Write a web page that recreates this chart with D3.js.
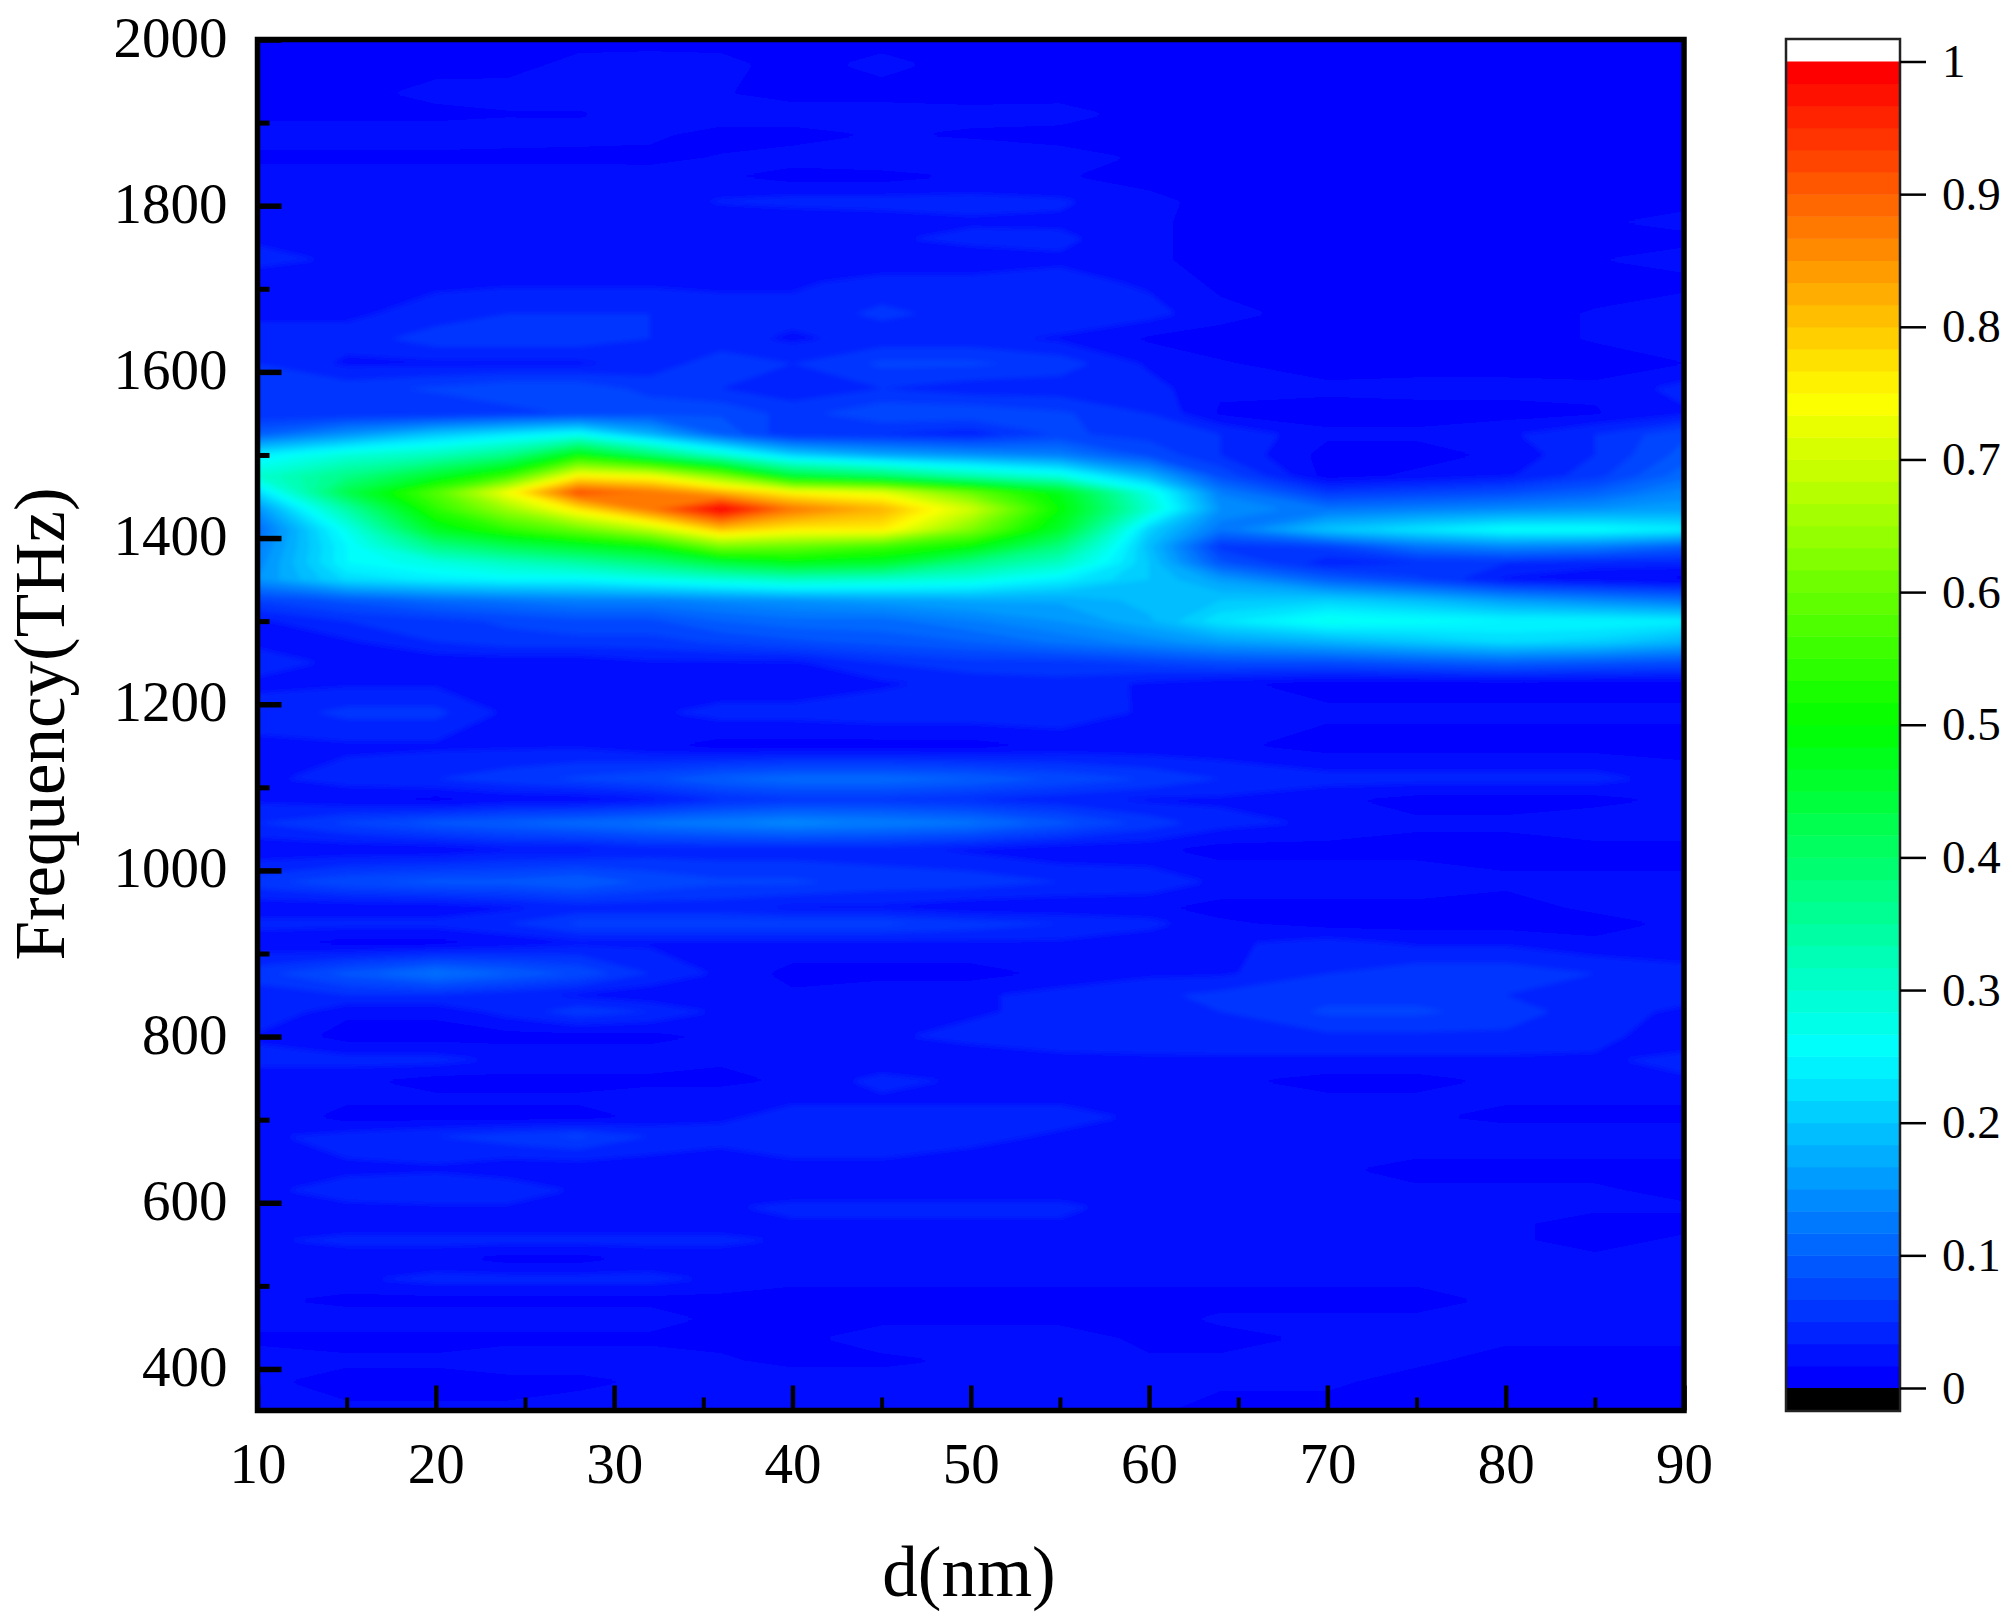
<!DOCTYPE html>
<html>
<head>
<meta charset="utf-8">
<script src="https://cdn.jsdelivr.net/npm/d3@7"></script>
<style>
    html, body { margin: 0; background: #fff; }
    svg { display: block; }
    text { font-family: "Liberation Serif", serif; fill: #000; }
</style>
</head>
<body>
<svg width="2014" height="1622"></svg>
<script>
/**
 * Data. Intensity is in percent, one row per frequency.
 */
const ds = [10, 15, 20, 24, 28, 32, 36, 40, 45, 50, 55, 60, 64, 70, 75, 80, 85, 90];
const freqs = [2000, 1970, 1935, 1910, 1885, 1858, 1835, 1805, 1780, 1760, 1735, 1708, 1670, 1640, 1610, 1580,
    1550, 1525, 1500, 1475, 1455, 1435, 1410, 1390, 1370, 1350, 1325, 1300, 1275, 1250, 1225, 1190, 1150, 1110,
    1085, 1057, 1025, 986, 955, 936, 913, 876, 850, 830, 800, 772, 747, 725, 703, 680, 640, 615, 595, 575, 555,
    533, 508, 482, 460, 437, 410, 385, 350];
const intensity = [
    [1, 1, 1, 1, 1, 1, 1, 1, 1, 1, 1, 1, 1, 1, 1, 1, 1, 1],
    [1, 1, 1, 1, 2.2, 2.4, 2.2, 1, 2.2, 1, 1, 1, 1, 1, 1, 1, 1, 1],
    [1, 1, 2.3, 2.4, 2.4, 2.2, 1.8, 1, 1, 1, 1, 1, 1, 1, 1, 1, 1, 1],
    [1, 1, 1, 1.5, 1.5, 2.2, 2.6, 2.6, 2.6, 2.2, 2.4, 1, 1, 1, 1, 1, 1, 1],
    [3, 3, 3, 2.6, 2.4, 2, 1, 1, 1.8, 1.4, 1, 1, 1, 1, 1, 1, 1, 1],
    [1, 1, 1, 1, 1, 1.2, 1.8, 2.4, 3, 3, 2.4, 1.4, 1, 1, 1, 1, 1, 1],
    [3, 3, 3, 3, 3, 2.4, 1.8, 1, 1, 1.8, 1.8, 1, 1, 1, 1, 1, 1, 1],
    [2, 2, 2, 2, 2, 2.6, 3.5, 4, 4, 4, 3.6, 2.2, 1, 1, 1, 1, 1, 1],
    [3, 2, 3, 3, 3, 2.6, 2, 1.8, 2.4, 3, 3, 2, 1, 1, 1, 1, 1.4, 2.4],
    [3, 2, 2, 3, 3, 3, 3, 3, 3, 4, 3.8, 2, 1, 1, 1, 1, 1, 1],
    [4, 3, 3, 3, 3, 3, 3, 2, 2, 2, 3, 2, 1, 1, 1, 1, 1.6, 2.6],
    [2, 2, 3, 3, 3, 3, 3, 3, 4, 4, 4, 3, 1.2, 1, 1, 1, 1, 1],
    [3, 3, 4, 5, 5, 5, 4, 4, 5.4, 4.4, 5, 4, 2.2, 1, 1, 1, 1.8, 3],
    [4, 4, 6, 6, 6, 5, 4, 3, 4, 4, 3, 1.4, 1, 1, 1, 1, 1.8, 3],
    [5, 3, 3, 3, 3, 4, 6, 5, 7, 7, 6, 3, 1.8, 1, 1, 1, 1, 1.6],
    [6, 6, 7, 8, 8, 6, 5, 4, 5, 4, 4, 4, 2, 2, 2.2, 2.2, 2, 4],
    [5, 5, 5, 6, 7, 8, 8, 6, 8, 8, 7, 5, 1.4, 1, 1, 1, 1.5, 3],
    [10, 15, 20, 23, 26, 18, 10, 5, 5, 4, 7, 6, 5, 2, 2, 3, 5, 8],
    [24, 29, 32, 37, 50, 40, 30, 21, 17, 15, 13, 8, 5, 1, 1, 2, 5, 9],
    [30, 37, 46, 55, 75, 73, 62, 45, 40, 33, 28, 18, 8, 1, 2, 3, 6, 11],
    [22, 43, 58, 74, 92, 88, 82, 75, 72, 60, 48, 28, 13, 6, 7, 8, 10, 14],
    [15, 34, 54, 65, 77, 88, 100, 88, 82, 70, 50, 30, 15, 12, 13, 14, 15, 16],
    [11, 27, 47, 54, 60, 68, 80, 76, 76, 62, 46, 21, 12, 20, 23, 26, 26, 24],
    [13, 25, 37, 42, 46, 50, 62, 60, 56, 50, 38, 19, 6, 7, 12, 14, 13, 10],
    [14, 25, 28, 31, 34, 38, 44, 48, 46, 37, 31, 20, 9, 4, 5, 5, 4, 4],
    [15, 22, 24, 25, 25, 27, 29, 31, 30, 28, 24, 20, 16, 10, 7, 3, 2, 1],
    [7, 9, 11, 12, 13, 13, 14, 15, 16, 17, 17, 19, 20, 21, 19, 16, 14, 12],
    [3, 5, 6, 7, 8, 8, 10, 11, 11, 13, 15, 18, 23, 27, 26, 25, 25, 24],
    [3, 3, 5, 6, 6, 6, 7, 8, 9, 10, 12, 14, 16, 18, 20, 22, 21, 18],
    [4, 3, 2, 2, 2, 3, 3, 3, 5, 6, 6, 7, 8, 8, 9, 10, 9, 8],
    [3, 3, 3, 3, 3, 3, 2, 2, 3, 4, 4.5, 3, 2, 1, 1, 1, 1, 1],
    [4, 5.5, 5.5, 3, 2, 3, 4, 4, 4.5, 4.5, 4.6, 3, 2, 2, 2, 2, 2, 2],
    [3, 3, 3, 3, 3, 2, 1, 1, 1, 1, 2, 2, 2, 1, 1, 1, 1, 1],
    [3, 4, 5, 6, 7, 8, 10, 11, 11, 10, 8, 6.5, 5, 4, 4, 4, 4, 2.5],
    [3, 2, 1, 2, 2, 3, 5, 6, 6, 5, 4, 3, 3, 2, 1, 1, 1, 2],
    [5, 7, 9, 10, 11, 12, 13, 14, 13, 12, 9, 6, 4, 3, 2, 2, 3, 3],
    [2, 2, 2, 3, 3, 4, 4, 4, 4, 3, 2, 2, 1, 1, 1, 1, 1, 1],
    [6, 8, 9, 9, 10, 8, 7, 7, 6, 6, 5, 4.5, 3, 3, 3, 2, 2, 2],
    [2, 2, 2, 3, 4, 4, 4, 3, 3, 2, 2, 2, 1, 1, 1, 1, 2, 3],
    [4, 4, 4, 5, 7, 7, 7, 7, 7, 6, 5, 4, 2, 1, 1, 1, 1, 2],
    [2, 1, 1, 2, 3, 3, 3, 3, 3, 3, 3, 2, 3, 4, 3, 3, 2, 2],
    [6, 9, 12, 10, 8, 5, 3, 1, 1, 1, 2, 3, 3, 5, 6, 6, 5, 4],
    [4, 5, 5, 4, 3, 2, 2, 2, 3, 3, 4, 4.6, 5.5, 6, 6, 5, 4, 4],
    [5, 2, 2, 4, 6, 5, 3, 2, 2, 3, 4, 4.6, 5, 7, 7, 6, 4, 3],
    [3, 1, 1, 1, 1, 1, 2, 2, 3, 4, 4, 4.4, 4.6, 4.6, 4.6, 4.6, 4, 2],
    [4, 4, 4, 3, 3, 3, 2, 2, 2, 2, 3, 3, 3, 3, 3, 3, 3, 4],
    [2, 2, 1, 1, 1, 1, 1, 2, 4, 3, 3, 2, 2, 1, 1, 2, 3, 3],
    [3, 2, 2, 2, 2, 3, 3, 3, 3, 3, 3, 3, 2, 2, 2, 2, 2, 2],
    [3, 1, 1, 1, 1, 2, 3, 4, 4, 4, 4, 3, 3, 2, 2, 1, 1, 1],
    [3, 4, 5, 6, 7, 5, 4, 4, 4, 4, 3, 3, 3, 3, 3, 3, 3, 3],
    [3, 3, 3, 2, 2, 2, 2, 3, 3, 2, 2, 2, 2, 2, 1, 1, 1, 1],
    [3, 4, 5, 5, 3, 3, 3, 2, 2, 2, 2, 2, 2, 2, 2, 2, 2, 1],
    [3, 3, 3, 3, 3, 3, 3, 4, 4, 4, 4, 2, 2, 2, 2, 2, 2, 2],
    [2, 2, 2, 2, 2, 2, 2, 3, 3, 3, 3, 2, 2, 2, 2, 2, 1, 1],
    [3, 4, 4, 4, 4, 4, 4, 3, 2, 2, 2, 2, 2, 2, 2, 2, 1, 2],
    [2, 2, 2, 1, 1, 2, 2, 2, 2, 2, 2, 2, 2, 2, 2, 2, 2, 2],
    [2, 3, 4, 4, 4, 4, 3, 2, 2, 2, 2, 2, 2, 2, 2, 2, 2, 3],
    [2, 1, 1, 1, 1, 1, 1, 1, 1, 1, 1, 1, 1, 1, 1, 2, 2, 2],
    [3, 3, 3, 3, 3, 3, 1, 1, 1, 1, 1, 1, 2, 2, 2, 2, 2, 3],
    [1, 1, 1, 1, 1, 1, 1, 1, 3, 3, 3, 1, 1, 2, 2, 2, 2, 2],
    [3, 2, 2, 3, 3, 3, 2, 1, 1, 2, 2, 2, 2, 2, 2, 1, 1, 1],
    [2, 1, 1, 1, 1, 2, 2, 3, 3, 3, 3, 2, 2, 2, 1, 1, 1, 1],
    [2, 2, 2, 2, 3, 3, 3, 3, 2, 2, 2, 2, 1, 1, 1, 1, 1, 1]
];
const xMajor = [10, 20, 30, 40, 50, 60, 70, 80, 90];
const xMinor = [15, 25, 35, 45, 55, 65, 75, 85];
const yMajor = [400, 600, 800, 1000, 1200, 1400, 1600, 1800, 2000];
const yMinor = [500, 700, 900, 1100, 1300, 1500, 1700, 1900];
const barTicks = [0, 0.1, 0.2, 0.3, 0.4, 0.5, 0.6, 0.7, 0.8, 0.9, 1];
const levelCount = 60;
const jetStops = ['#0000ff', '#00ffff', '#00ff00', '#ffff00', '#ff0000'];

/**
 * Set stuff up.
 */
const svg = d3.select('svg');
const plot = { left: 257.5, right: 1684, top: 39.5, bottom: 1410.5 };
const bar = { left: 1786, right: 1900, top: 39, bottom: 1411 };

const x = d3.scaleLinear().domain([10, 90]).range([plot.left, plot.right]);
const y = d3.scaleLinear().domain([350, 2000]).range([plot.bottom, plot.top]);
const barY = d3.scaleLinear().domain([0, 1]).range([1388, 61.5]);

const jet = d3.scaleLinear().domain([0, 0.25, 0.5, 0.75, 1]).range(jetStops);
const levels = d3.range(levelCount).map(k => k / levelCount);
const levelColor = k => jet(k / (levelCount - 1));

// grid index -> data value, the grid is not evenly spaced
const colToD = d3.scaleLinear().domain(ds.map((d, i) => i)).range(ds).clamp(true);
const rowToF = d3.scaleLinear().domain(freqs.map((d, i) => i)).range(freqs).clamp(true);

const defs = svg.append('defs');
defs.append('clipPath').attr('id', 'plot-clip').append('rect')
    .attr('x', plot.left).attr('y', plot.top)
    .attr('width', plot.right - plot.left).attr('height', plot.bottom - plot.top);
defs.append('filter').attr('id', 'soft')
    .attr('filterUnits', 'userSpaceOnUse')
    .attr('x', plot.left - 20).attr('y', plot.top - 20)
    .attr('width', plot.right - plot.left + 40).attr('height', plot.bottom - plot.top + 40)
    .append('feGaussianBlur').attr('stdDeviation', 2.5);

/**
 * Filled contours.
 */
const contours = d3.contours()
    .size([ds.length, freqs.length])
    .thresholds(levels)(intensity.flat().map(v => v / 100));

// d3.contours puts a value at i + 0.5, so take that back off
const path = d3.geoPath(d3.geoTransform({
    point(px, py) {
        this.stream.point(x(colToD(px - 0.5)), y(rowToF(py - 0.5)));
    }
}));

const map = svg.append('g').attr('clip-path', 'url(#plot-clip)').append('g').attr('filter', 'url(#soft)');
map.append('rect')
    .attr('x', plot.left - 10).attr('y', plot.top - 10)
    .attr('width', plot.right - plot.left + 20).attr('height', plot.bottom - plot.top + 20)
    .attr('fill', levelColor(0));
map.selectAll('path')
    .data(contours)
    .enter()
    .append('path')
    .attr('d', path)
    .attr('fill', (d, i) => levelColor(i));

/**
 * Axes.
 */
function styleAxis(g, width, fontSize) {
    g.select('.domain').remove();
    g.selectAll('line').attr('stroke', '#000').attr('stroke-width', width);
    g.selectAll('text').attr('font-size', fontSize).attr('font-family', '"Liberation Serif", serif');
}

svg.append('g')
    .attr('transform', `translate(0,${plot.bottom})`)
    .call(d3.axisBottom(x).tickValues(xMajor).tickSize(-25).tickPadding(32).tickFormat(d3.format('d')))
    .call(styleAxis, 4.5, 57);
svg.append('g')
    .attr('transform', `translate(0,${plot.bottom})`)
    .call(d3.axisBottom(x).tickValues(xMinor).tickSize(-13).tickFormat(''))
    .call(styleAxis, 4, 57);
svg.append('g')
    .attr('transform', `translate(${plot.left},0)`)
    .call(d3.axisLeft(y).tickValues(yMajor).tickSize(-24).tickPadding(30).tickFormat(d3.format('d')))
    .call(styleAxis, 5.5, 57)
    .call(g => g.selectAll('text').attr('dy', '0.29em'));
svg.append('g')
    .attr('transform', `translate(${plot.left},0)`)
    .call(d3.axisLeft(y).tickValues(yMinor).tickSize(-12).tickFormat(''))
    .call(styleAxis, 5, 57);

svg.append('rect')
    .attr('x', plot.left).attr('y', plot.top)
    .attr('width', plot.right - plot.left).attr('height', plot.bottom - plot.top)
    .attr('fill', 'none').attr('stroke', '#000').attr('stroke-width', 5.5);

svg.append('text')
    .attr('x', 969).attr('y', 1596)
    .attr('text-anchor', 'middle').attr('font-size', 71)
    .text('d(nm)');
svg.append('text')
    .attr('transform', 'translate(64,724) rotate(-90)')
    .attr('text-anchor', 'middle').attr('font-size', 71)
    .text('Frequency(THz)');

/**
 * Colour bar.
 */
const barG = svg.append('g');
barG.selectAll('rect')
    .data(levels)
    .enter()
    .append('rect')
    .attr('x', bar.left).attr('width', bar.right - bar.left)
    .attr('y', (d, i) => barY((i + 1) / levelCount))
    .attr('height', barY(0) - barY(1 / levelCount) + 0.5)
    .attr('fill', (d, i) => levelColor(i));
barG.append('rect')
    .attr('x', bar.left).attr('width', bar.right - bar.left)
    .attr('y', barY(0)).attr('height', bar.bottom - barY(0))
    .attr('fill', '#000');
barG.append('rect')
    .attr('x', bar.left).attr('y', bar.top)
    .attr('width', bar.right - bar.left).attr('height', bar.bottom - bar.top)
    .attr('fill', 'none').attr('stroke', '#222').attr('stroke-width', 2.5);

svg.append('g')
    .attr('transform', `translate(${bar.right},0)`)
    .call(d3.axisRight(barY).tickValues(barTicks).tickSize(26).tickPadding(16).tickFormat(d => d))
    .call(styleAxis, 2.5, 47);
</script>
</body>
</html>
